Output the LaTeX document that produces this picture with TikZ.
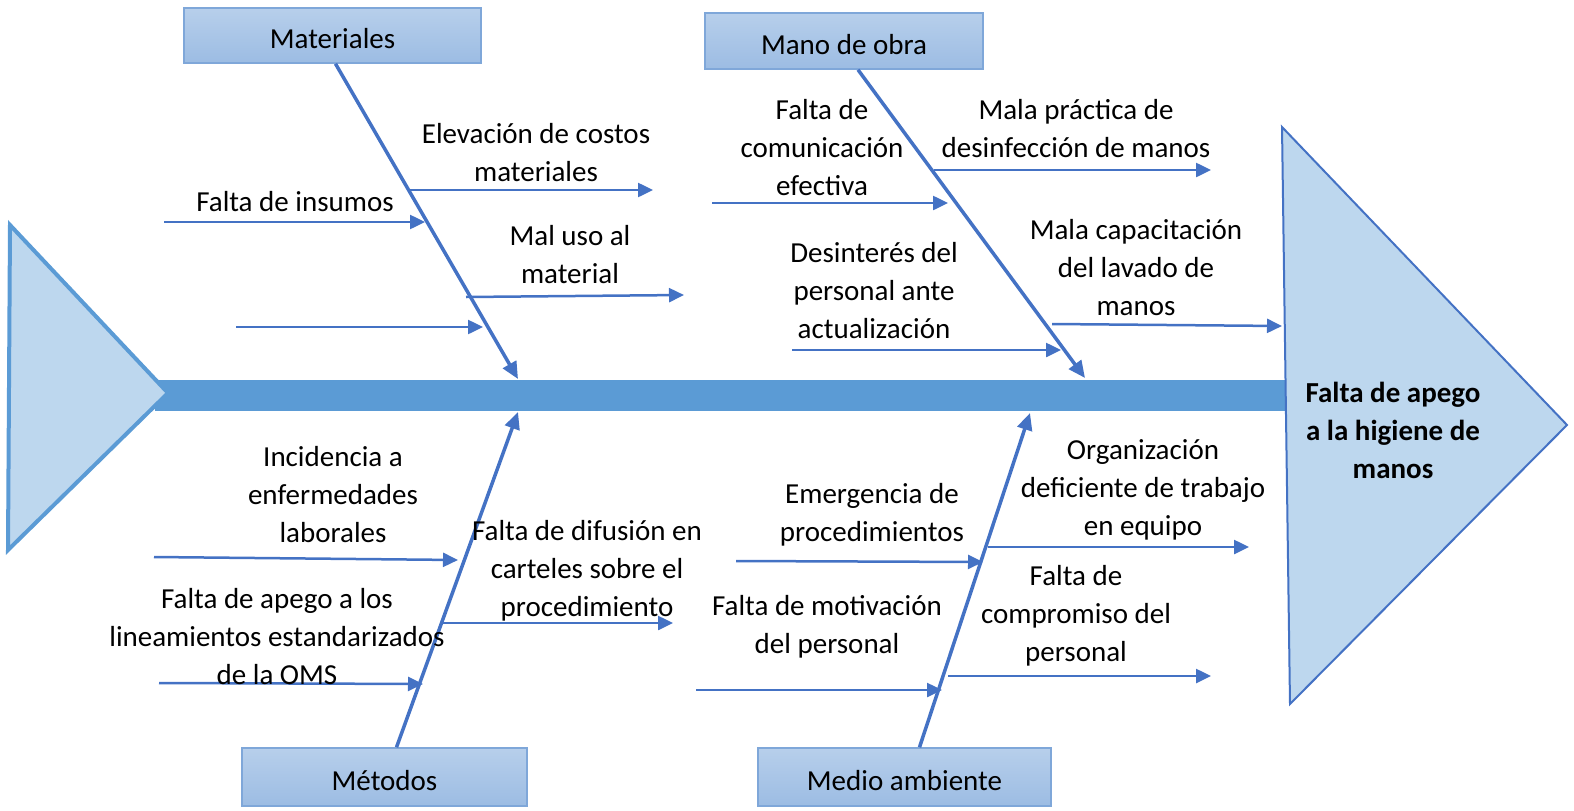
\documentclass[tikz,border=0pt]{standalone}
\usepackage{fontspec}
\setmainfont{Carlito}
\usetikzlibrary{arrows.meta,calc}
\definecolor{spineblue}{HTML}{5B9BD5}
\definecolor{headfill}{HTML}{BDD7EE}
\definecolor{bonecol}{HTML}{4472C4}
\definecolor{boxtop}{HTML}{B7CFEB}
\definecolor{boxbot}{HTML}{9CBCE3}
\definecolor{boxedge}{HTML}{7FA7D9}

\begin{document}
\begin{tikzpicture}[x=1pt,y=-1pt,
		lbl/.style={align=center,inner sep=0pt,yshift=-2pt,font=\fontsize{29}{38}\selectfont},
		catbox/.style={draw=boxedge,line width=1.5pt,top color=boxtop,bottom color=boxbot,
			text height=26pt,text depth=0pt,font=\fontsize{29}{38}\selectfont},
		bone/.style={draw=bonecol,line width=3.5pt,-{Triangle[length=17pt,width=15pt]}},
		branch/.style={draw=bonecol,line width=2.5pt,-{Triangle[length=15pt,width=14pt]}}]
	\useasboundingbox (0,0) rectangle (1574,811);

	% spine and heads
	\fill[spineblue] (155,380) rectangle (1285,411);
	\draw[spineblue,line width=4pt,fill=headfill,line join=miter]
		(10,225) -- (168,393) -- (8,550) -- cycle;
	\draw[bonecol,line width=2pt,fill=headfill]
		(1282,127) -- (1567,425) -- (1290,704) -- cycle;
	\node[lbl,font=\fontsize{29}{38}\selectfont\bfseries] (efecto) at (1393,428)
		{Falta de apego\\a la higiene de\\manos};

	% categories
	\node[catbox,minimum width=297pt,minimum height=55pt] (mat) at (332.5,35.5) {Materiales};
	\node[catbox,minimum width=278pt,minimum height=56pt] (mano) at (844,41) {Mano de obra};
	\node[catbox,minimum width=285pt,minimum height=58pt] (met) at (384.5,777) {Métodos};
	\node[catbox,minimum width=293pt,minimum height=58pt] (medio) at (904.5,777) {Medio ambiente};

	\coordinate (matend) at (518,379);
	\coordinate (manoend) at (1085,378);
	\coordinate (metend) at (518,412);
	\coordinate (medioend) at (1030,413);
	\draw[bone] ($(mat.south)+(3,0)$) -- (matend);
	\draw[bone] ($(mano.south)+(14,0)$) -- (manoend);
	\draw[bone] ($(met.north)+(12,0)$) -- (metend);
	\draw[bone] ($(medio.north)+(15,0)$) -- (medioend);

	% Materiales
	\coordinate (m1a) at (164,222); \coordinate (m1b) at (425,222);
	\coordinate (m2a) at (410,190); \coordinate (m2b) at (653,190);
	\coordinate (m3a) at (466,297); \coordinate (m3b) at (684,295);
	\coordinate (m4a) at (236,327); \coordinate (m4b) at (483,327);
	\draw[branch] (m1a) -- (m1b);
	\draw[branch] (m2a) -- (m2b);
	\draw[branch] (m3a) -- (m3b);
	\draw[branch] (m4a) -- (m4b);
	\node[lbl] (insumos) at (295,200) {Falta de insumos};
	\node[lbl] (costos) at (536,151) {Elevación de costos\\materiales};
	\node[lbl] (maluso) at (570,253) {Mal uso al\\material};

	% Mano de obra
	\coordinate (o1a) at (712,203); \coordinate (o1b) at (948,203);
	\coordinate (o2a) at (934,170); \coordinate (o2b) at (1211,170);
	\coordinate (o3a) at (792,350); \coordinate (o3b) at (1061,350);
	\coordinate (o4a) at (1052,324); \coordinate (o4b) at (1282,326);
	\draw[branch] (o1a) -- (o1b);
	\draw[branch] (o2a) -- (o2b);
	\draw[branch] (o3a) -- (o3b);
	\draw[branch] (o4a) -- (o4b);
	\node[lbl] (comunic) at (822,146) {Falta de\\comunicación\\efectiva};
	\node[lbl] (practica) at (1076,127) {Mala práctica de\\desinfección de manos};
	\node[lbl] (desinteres) at (874,289) {Desinterés del\\personal ante\\actualización};
	\node[lbl] (capacit) at (1136,266) {Mala capacitación\\del lavado de\\manos};

	% Métodos
	\coordinate (t1a) at (154,557); \coordinate (t1b) at (458,560);
	\coordinate (t2a) at (159,683); \coordinate (t2b) at (423,684);
	\coordinate (t3a) at (440,623); \coordinate (t3b) at (673,623);
	\draw[branch] (t1a) -- (t1b);
	\draw[branch] (t2a) -- (t2b);
	\draw[branch] (t3a) -- (t3b);
	\node[lbl] (incid) at (333,493) {Incidencia a\\enfermedades\\laborales};
	\node[lbl] (oms) at (277,635) {Falta de apego a los\\lineamientos estandarizados\\de la OMS};
	\node[lbl] (difusion) at (587,569) {Falta de difusión en\\carteles sobre el\\procedimiento};

	% Medio ambiente
	\coordinate (a1a) at (736,561); \coordinate (a1b) at (983,562);
	\coordinate (a2a) at (696,690); \coordinate (a2b) at (942,690);
	\coordinate (a3a) at (988,547); \coordinate (a3b) at (1249,547);
	\coordinate (a4a) at (948,676); \coordinate (a4b) at (1211,676);
	\draw[branch] (a1a) -- (a1b);
	\draw[branch] (a2a) -- (a2b);
	\draw[branch] (a3a) -- (a3b);
	\draw[branch] (a4a) -- (a4b);
	\node[lbl] (emerg) at (872,513) {Emergencia de\\procedimientos};
	\node[lbl] (motiv) at (827,625) {Falta de motivación\\del personal};
	\node[lbl] (organiz) at (1143,488) {Organización\\deficiente de trabajo\\en equipo};
	\node[lbl] (compromiso) at (1076,614) {Falta de\\compromiso del\\personal};
\end{tikzpicture}
\end{document}
